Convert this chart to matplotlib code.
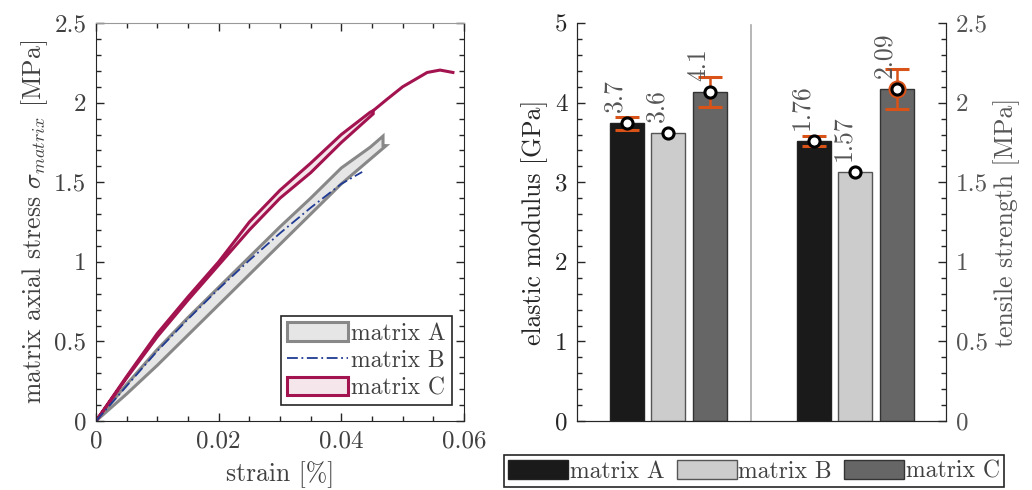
import matplotlib
matplotlib.use('Agg')
import matplotlib.pyplot as plt
import numpy as np
from matplotlib.patches import Patch
from matplotlib.lines import Line2D
from matplotlib.ticker import MultipleLocator

plt.rcParams['font.family'] = 'serif'
plt.rcParams['font.serif'] = ['cmr10']
plt.rcParams['mathtext.fontset'] = 'cm'
plt.rcParams['axes.formatter.use_mathtext'] = True
plt.rcParams['axes.unicode_minus'] = False

### Data
# stress-strain envelopes (strain in %, stress in MPa)
strain_A_up = [0, 0.005, 0.01, 0.015, 0.02, 0.025, 0.03, 0.035, 0.04, 0.0447, 0.0468, 0.0468]
stress_A_up = [0, 0.23, 0.45, 0.65, 0.84, 1.03, 1.22, 1.40, 1.59, 1.72, 1.79, 1.73]
strain_A_lo = [0, 0.005, 0.01, 0.015, 0.02, 0.025, 0.03, 0.035, 0.04, 0.0473]
stress_A_lo = [0, 0.17, 0.35, 0.54, 0.73, 0.92, 1.11, 1.30, 1.49, 1.73]

strain_B = [0, 0.005, 0.01, 0.015, 0.02, 0.025, 0.03, 0.035, 0.04, 0.0434]
stress_B = [0, 0.22, 0.44, 0.64, 0.83, 1.01, 1.18, 1.34, 1.49, 1.565]

strain_C_up = [0, 0.005, 0.01, 0.015, 0.02, 0.025, 0.03, 0.035, 0.04, 0.0447, 0.0452]
stress_C_up = [0, 0.28, 0.55, 0.78, 1.00, 1.25, 1.45, 1.62, 1.80, 1.94, 1.95]
strain_C_lo = [0, 0.005, 0.01, 0.015, 0.02, 0.025, 0.03, 0.035, 0.04, 0.0452]
stress_C_lo = [0, 0.27, 0.53, 0.76, 0.98, 1.20, 1.40, 1.56, 1.75, 1.93]
strain_C_end = [0.0452, 0.0474, 0.05, 0.054, 0.0561, 0.0582]
stress_C_end = [1.95, 2.02, 2.10, 2.19, 2.205, 2.19]

# bar chart
materials = ['matrix A', 'matrix B', 'matrix C']
modulus = [3.74, 3.62, 4.13]            # GPa
modulus_err = [0.085, 0.0, 0.19]
modulus_lbl = ['3.7', '3.6', '4.1']
strength = [1.76, 1.565, 2.085]         # MPa
strength_err = [0.03, 0.0, 0.125]
strength_lbl = ['1.76', '1.57', '2.09']

pos_modulus = [1, 2, 3]
pos_strength = [5.5, 6.5, 7.5]
bar_colors = ['#1a1a1a', '#cccccc', '#666666']
txt = '#404040'
txt_dark = '#262626'
txt_light = '#555555'
axc = '#262626'
fs_tick = 18
fs_lab = 18.5
fs_leg = 17

fig = plt.figure(figsize=(10.32, 4.9), dpi=100)

### Left panel
ax = fig.add_axes([0.093, 0.1408, 0.3566, 0.812])
c_gray, f_gray = '#888888', '#e6e6e6'
c_red, f_red = '#a2134f', '#f5e6ec'
c_blue = '#1f3a93'

ax.fill(strain_A_up + strain_A_lo[::-1], stress_A_up + stress_A_lo[::-1],
        facecolor=f_gray, edgecolor=c_gray, lw=2.2, joinstyle='miter')
ax.fill(strain_C_up + strain_C_lo[::-1], stress_C_up + stress_C_lo[::-1],
        facecolor=f_red, edgecolor=c_red, lw=2.2)
ax.plot(strain_C_end, stress_C_end, color=c_red, lw=2.2)
ax.plot(strain_B, stress_B, color=c_blue, lw=1.3, ls=(0, (6, 2, 1, 2)))

ax.set_xlim(0, 0.06)
ax.set_ylim(0, 2.5)
ax.set_xticks([0, 0.02, 0.04, 0.06])
ax.set_xticklabels(['0', '0.02', '0.04', '0.06'])
ax.set_yticks([0, 0.5, 1, 1.5, 2, 2.5])
ax.set_yticklabels(['0', '0.5', '1', '1.5', '2', '2.5'])
ax.xaxis.set_minor_locator(MultipleLocator(0.005))
ax.yaxis.set_minor_locator(MultipleLocator(0.1))
ax.tick_params(which='both', direction='in', top=True, right=True,
               color=axc, labelcolor=txt, labelsize=fs_tick, pad=7)
ax.tick_params(which='major', length=6, width=1)
ax.tick_params(which='minor', length=3.5, width=1)
for s in ax.spines.values():
    s.set_color(axc)
ax.spines['top'].set_color('#999999')
ax.set_xlabel('strain [%]', fontsize=fs_lab, color=txt, labelpad=6)
ax.set_ylabel(r'matrix axial stress $\sigma_{matrix}$ [MPa]', fontsize=fs_lab,
              color=txt, labelpad=3)

handles = [Patch(facecolor=f_gray, edgecolor=c_gray, lw=2.2),
           Line2D([], [], color=c_blue, lw=1.3, ls=(0, (6, 2, 1, 2))),
           Patch(facecolor=f_red, edgecolor=c_red, lw=2.2)]
leg = ax.legend(handles, materials, loc='lower right',
                bbox_to_anchor=(0.967, 0.04), borderaxespad=0,
                fontsize=fs_leg, handlelength=2.6, handleheight=0.85,
                handletextpad=0.12, labelspacing=0.2, borderpad=0.25,
                fancybox=False, framealpha=1, edgecolor=axc)
leg.get_frame().set_linewidth(1.2)
for t in leg.get_texts():
    t.set_color(txt)

### Right panel
bx = fig.add_axes([0.5591, 0.1408, 0.3576, 0.812])
bx2 = bx.twinx()
bx.set_xlim(-0.2, 8.69)
bx.set_ylim(0, 5)
bx2.set_ylim(0, 2.5)

edge_cols = ['#222222', '#555555', '#333333']
for i in range(3):
    bx.bar(pos_modulus[i], modulus[i], width=0.82, color=bar_colors[i],
           edgecolor=edge_cols[i], lw=1, zorder=2, label=materials[i])
    bx2.bar(pos_strength[i], strength[i], width=0.82, color=bar_colors[i],
            edgecolor=edge_cols[i], lw=1, zorder=2)

orange = '#d95319'
for i in range(3):
    if modulus_err[i] > 0:
        bx.errorbar(pos_modulus[i], modulus[i], yerr=modulus_err[i], fmt='none',
                    ecolor=orange, elinewidth=1.8, capsize=8.5, capthick=2.2, zorder=3)
    if strength_err[i] > 0:
        bx2.errorbar(pos_strength[i], strength[i], yerr=strength_err[i], fmt='none',
                     ecolor=orange, elinewidth=1.8, capsize=8.5, capthick=2.2, zorder=3)
bx.plot(pos_modulus, modulus, 'o', ms=8, mfc='white', mec='black', mew=2.2, zorder=4)
bx2.plot(pos_strength[2], strength[2], 'o', ms=12, mfc=orange, mec=orange, zorder=3)
bx2.plot(pos_strength, strength, 'o', ms=8, mfc='white', mec='black', mew=2.2, zorder=4)

for i in range(3):
    bx.annotate(modulus_lbl[i], (pos_modulus[i], modulus[i]), xytext=(-3.6, 8),
                textcoords='offset points', rotation=90, rotation_mode='anchor',
                ha='left', va='baseline', fontsize=fs_lab, color=txt_light)
    bx2.annotate(strength_lbl[i], (pos_strength[i], strength[i]), xytext=(-3.6, 8),
                 textcoords='offset points', rotation=90, rotation_mode='anchor',
                 ha='left', va='baseline', fontsize=fs_lab, color=txt_light)

# separator between the two groups
bx.axvline(4.0, ymin=0, ymax=0.995, color='#aaaaaa', lw=1.2, zorder=1)

bx.set_xticks([])
bx.set_yticks([0, 1, 2, 3, 4, 5])
bx.set_yticklabels(['0', '1', '2', '3', '4', '5'])
bx.yaxis.set_minor_locator(MultipleLocator(0.2))
bx2.set_yticks([0, 0.5, 1, 1.5, 2, 2.5])
bx2.set_yticklabels(['0', '0.5', '1', '1.5', '2', '2.5'])
bx2.yaxis.set_minor_locator(MultipleLocator(0.1))
for a, c in ((bx, txt_dark), (bx2, txt_light)):
    a.spines['top'].set_visible(False)
    for s in a.spines.values():
        s.set_color(axc)
    a.tick_params(which='both', direction='in', color=axc, labelcolor=c,
                  labelsize=fs_tick, pad=7)
    a.tick_params(which='major', length=6, width=1)
    a.tick_params(which='minor', length=3.5, width=1)
bx.set_ylabel('elastic modulus [GPa]', fontsize=fs_lab, color=txt_dark, labelpad=5)
bx2.set_ylabel('tensile strength [MPa]', fontsize=fs_lab, color=txt_light, labelpad=4)

leg2 = fig.legend(*bx.get_legend_handles_labels(), loc='center',
                  bbox_to_anchor=(0.7306, 0.038), ncol=3, fontsize=fs_leg,
                  handlelength=2.54, handleheight=0.85, handletextpad=0.08,
                  columnspacing=0.5, borderpad=0.2, fancybox=False,
                  framealpha=1, edgecolor=axc)
leg2.get_frame().set_linewidth(1.2)
for t in leg2.get_texts():
    t.set_color(txt)

fig.savefig('out.png', dpi=100)
